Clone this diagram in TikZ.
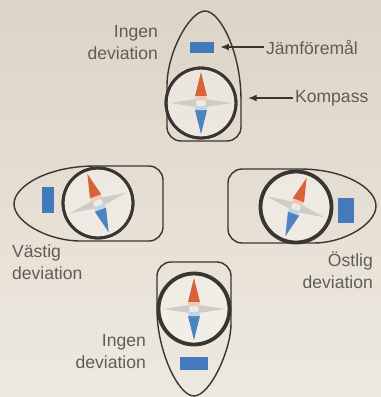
\documentclass[tikz,border=0pt]{standalone}
\usepackage{fontspec}
\setmainfont{Liberation Sans}
\usetikzlibrary{arrows.meta,positioning}
\definecolor{cBGtop}{HTML}{DCD4C6}
\definecolor{cBGbot}{HTML}{EEE9E0}
\definecolor{cLine}{HTML}{3A3530}
\definecolor{cText}{HTML}{615C55}
\definecolor{cRed}{HTML}{D8633B}
\definecolor{cBlue}{HTML}{4C84BE}
\definecolor{cRef}{HTML}{4479BC}
\definecolor{cGrey}{HTML}{CFCBC5}

\tikzset{
  hull/.style={draw=cLine, line width=0.8pt},
  kompass/.style={circle, draw=cLine, line width=1.6pt, fill=white, fill opacity=0.35,
    draw opacity=1, minimum size=1.4cm, inner sep=0pt},
  refbox/.style={fill=cRef, inner sep=0pt},
  lbl/.style={text=cText, inner sep=1pt},
  pil/.style={->, draw=cLine, line width=1.1pt},
  pics/nal/.style={code={
    % grey cross under the needle
    \fill[cGrey] (-31,0) -- (-4,-4) -- (0,-31) -- (4,-4) -- (31,0) -- (4,4) -- (0,31) -- (-4,4) -- cycle;
    \fill[white, opacity=0.6] (0,0) circle (5);
    % north and south ends
    \fill[cRed] (-6,-7) -- (0,-31) -- (6,-7) -- cycle;
    \fill[cRed!35] (-6,-7) -- (6,-7) -- (5,-3) -- (-5,-3) -- cycle;
    \fill[cBlue] (-6,7) -- (0,31) -- (6,7) -- cycle;
    \fill[cBlue!35] (-6,7) -- (6,7) -- (5,3) -- (-5,3) -- cycle;
  }}
}

\begin{document}
\begin{tikzpicture}[x=0.02cm, y=-0.02cm, font=\fontsize{10}{12.5}\selectfont, >={Latex[length=5pt,width=4pt]}]
\shade[top color=cBGtop, bottom color=cBGbot] (0,0) rectangle (381,397);
\useasboundingbox (0,0) rectangle (381,397);

% boats: pointed bow, flat stern with rounded corners
\draw[hull] (205,11) .. controls (220,11) and (241,52) .. (241,100) [rounded corners=8pt] -- (241,141) -- (167,141) -- (167,100) [sharp corners] .. controls (167,52) and (190,11) .. cycle;
\draw[hull] (14,204) .. controls (14,186) and (48,166) .. (95,166) [rounded corners=8pt] -- (163,166) -- (163,241) -- (95,241) [sharp corners] .. controls (48,241) and (14,222) .. cycle;
\draw[hull] (376,206) .. controls (376,188) and (344,169) .. (300,169) [rounded corners=8pt] -- (228,169) -- (228,243) -- (300,243) [sharp corners] .. controls (344,243) and (376,224) .. cycle;
\draw[hull] (194,396) .. controls (178,396) and (157,350) .. (157,310) [rounded corners=8pt] -- (157,262) -- (231,262) -- (231,310) [sharp corners] .. controls (231,350) and (210,396) .. cycle;

% compasses
\node[kompass] (kTop) at (201,103) {};
\node[kompass] (kLeft) at (98,203) {};
\node[kompass] (kRight) at (296,207) {};
\node[kompass] (kBottom) at (194,309) {};
\pic at (kTop) {nal};
\pic[rotate=20] at (kLeft) {nal};
\pic[rotate=-20] at (kRight) {nal};
\pic at (kBottom) {nal};
\draw[cLine, line width=1.6pt] (kTop) circle (35) (kLeft) circle (35) (kRight) circle (36) (kBottom) circle (36);

% reference objects
\node[refbox, minimum width=0.5cm, minimum height=0.22cm] (jTop) at (202,47) {};
\node[refbox, minimum width=0.26cm, minimum height=0.52cm] (jLeft) at (48,200) {};
\node[refbox, minimum width=0.32cm, minimum height=0.5cm] (jRight) at (346,210) {};
\node[refbox, minimum width=0.56cm, minimum height=0.26cm] (jBottom) at (194,363) {};

% labels
\node[lbl, anchor=west] (jmfLbl) at (264,47) {Jämföremål};
\node[lbl, anchor=west] (kompLbl) at (293,98) {Kompass};
\draw[pil, shorten >=3pt] (jmfLbl.west) -- (jTop.east);
\draw[pil, shorten >=6pt] (kompLbl.west) -- (kompLbl.west -| kTop.east);

\node[lbl, anchor=east, align=right] (ingenTop) at (160,43) {Ingen\\deviation};
\node[lbl, anchor=north west, align=left] (vast) at (10,243) {Västig\\deviation};
\node[lbl, anchor=north east, align=right] (ost) at (375,250) {Östlig\\deviation};
\node[lbl, anchor=east, align=right] (ingenBot) at (148,352) {Ingen\\deviation};
\end{tikzpicture}
\end{document}
